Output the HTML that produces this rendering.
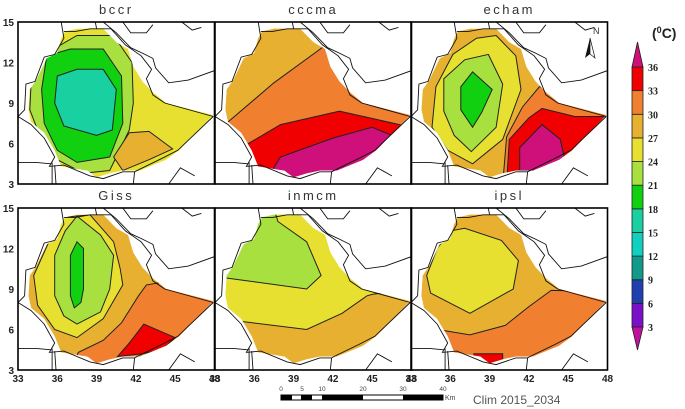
<!DOCTYPE html>
<html><head><meta charset="utf-8"><style>
body{margin:0;background:#fff;}
svg{display:block;font-family:"Liberation Sans",sans-serif;}
</style></head><body>
<svg id="fig" width="685" height="409" viewBox="0 0 685 409"></svg>
<script>
// ---- data ----
const models = ["bccr","cccma","echam","Giss","inmcm","ipsl"];
const levels = [3,6,9,12,15,18,21,24,27,30,33,36];
const levelColors = ["#7a10c8","#2040b0","#109a8a","#10d0c0","#18d0a0","#10d010","#a8e040","#e8e030","#e8b030","#f08030","#f00000","#d0107a"];
const outline = [[36.6,14.3],[37.5,14.5],[39.5,14.5],[40.5,13.5],[41.4,13],[41.8,11.7],[42.5,10.6],[43.3,9.8],[44.3,9],[47.9,8.1],[45.3,5.5],[44.3,4.8],[42.3,4.0],[41,4.0],[40,3.8],[39,3.5],[38.3,4.0],[36.3,4.3],[35.8,5.5],[35,6.8],[34,7.6],[33.8,8.5],[33.9,10],[34.4,10.7],[35.2,12.3],[36,12.7],[36.3,13.8]];
const baseClass = [7,9,8,8,8,9];
const regions = [
 [[6,[[35,12.6],[37.5,14],[40.3,14],[41.7,12],[41.8,9],[41.5,7],[40,4],[38,3.8],[36,4.8],[34.5,7],[33.9,8.5],[34,10.5]]],
  [5,[[35.2,12.5],[37,13],[39.5,13],[40.9,11],[41,7.5],[40,5],[37.5,4.6],[36,5.5],[35,7.5],[34.8,10]]],
  [4,[[36,11],[37.5,11.5],[39.5,11.5],[40.5,10],[40.2,7],[39,6.6],[36.5,7.3],[35.8,9]]],
  [8,[[40.3,5],[41.5,6.8],[43,6.9],[44.8,5.6],[43,4.8],[41,4]]]],
 [[8,[[33,7.6],[34,7.6],[37.5,10.5],[41.6,13.4],[42,15],[33,15]]],
  [10,[[33,6.5],[35.2,5.8],[38,7.4],[42.5,8.4],[48,7.2],[48,3],[33,3]]],
  [11,[[37.5,4.2],[38,5],[42,6.4],[45,7.2],[46.5,6.6],[46,3],[37,3]]]],
 [[7,[[39.5,14],[41,12.5],[41.4,10],[40,6.3],[37.7,4.5],[35.8,5.5],[34.6,7.2],[34.9,10.2],[36.2,12.6],[38,13.8]]],
  [6,[[38.9,12.6],[40,10.4],[39.5,7.2],[37.6,5.4],[36.3,6.6],[35.5,8.4],[35.5,10.8],[37.1,12.2]]],
  [5,[[37.7,11.3],[39.2,10],[38.4,8.3],[37.7,7.2],[36.8,8.5],[36.8,10.2]]],
  [9,[[40,3],[40.3,6.5],[41.5,8.7],[42.8,10.2],[44,10.2],[48,8.2],[48,3]]],
  [10,[[40.3,3],[40.5,6.3],[42,7.9],[43,8.6],[45.5,8.0],[48,8],[48,3]]],
  [11,[[41.3,4.0],[41.3,5.7],[43,7.4],[44.4,6.3],[44.7,5.0],[44.5,4.0]]]],
 [[7,[[36.5,14.3],[38.5,14.5],[40.3,12.5],[40.8,10.5],[41,9.3],[39.5,6.8],[37.5,5.4],[35.8,6],[34.5,7.8],[34.2,10],[35.5,12.8]]],
  [6,[[37.5,14.4],[39.3,13],[40.3,11.5],[40,9],[39.3,7.3],[37.5,6.4],[36.5,7],[35.8,8.5],[35.8,11.5],[36.6,13.3]]],
  [5,[[37.5,12.5],[38,12],[38,9],[37.8,8],[37.3,7.6],[37,8.5],[37,11.5]]],
  [9,[[37,3],[37.6,4.3],[39.5,5.2],[40.9,6.5],[42.2,8.5],[42.8,9.3],[44,9.5],[48,8.2],[48,3]]],
  [10,[[40.6,4],[41.5,5],[42.6,6.4],[45,5.4],[44,4.5],[42.5,4.2]]]],
 [[7,[[33,6.8],[35,6.6],[40,6],[42.7,7.2],[44.6,8.5],[45,8.6],[48,9],[48,15],[33,15]]],
  [6,[[33,9.9],[34,9.8],[40,9.0],[41.1,10],[40,12.5],[37.8,14],[37.5,15],[33,15]]]],
 [[8,[[33,6.3],[34.4,6.1],[37.5,5.6],[40.2,6.3],[42,7.7],[43.7,8.9],[48,8.8],[48,15],[33,15]]],
  [7,[[34.2,10],[34.5,8.7],[37.5,7.2],[40.8,9],[41.2,11.1],[39.9,12.6],[37.1,13.5],[36,13.3],[35,12]]],
  [10,[[37.8,3],[37.8,4.2],[40,4.2],[40,3]]]]
];
const borders = [
 [[36.3,15],[36.5,13.8],[35.8,12.6],[35,12.4],[34.3,10.6],[33.6,10.4],[33.5,8.5],[33,8]],
 [[33,8],[34,7.4],[35,6.4],[35.8,5],[35.4,4.3],[36.5,4.4],[38.5,3.6],[39.5,3.4],[41,3.9],[41.9,3.9]],
 [[41.9,3.9],[42.3,4.1],[44,4.9],[45.2,5.5],[47.9,8]],
 [[47.9,8],[44.2,9],[43.3,9.6],[42.8,10.8],[43.2,11.5],[42.4,12.5],[41.2,13.3],[40.1,14.5],[38.5,14.5],[37.4,14.3],[36.5,14.3]],
 [[39.5,15],[40.5,14.2],[41.6,13.1],[42.5,12.7],[43.3,12.3],[43.5,11.6],[44.5,10.5],[46,10.7],[48,11.4]],
 [[38.9,15],[39,14.5]],
 [[35.8,4.4],[35.9,3]],[[35.6,4.6],[35.6,3]],
 [[41.9,3.9],[41.8,3]],
 [[44.5,3],[45.4,4.2],[46.5,3.6]],
 [[33,4.6],[34.4,4.6],[35.5,4.5]],
 [[41,15],[41.6,14.2],[42.8,14.2],[43.3,14.8]],
 [[45.5,15],[46.3,14.4],[47,14.6]]
];
const xTicks = [33,36,39,42,45,48];
const yTicks = [3,6,9,12,15];

// ---- layout ----
const NS="http://www.w3.org/2000/svg";
const svg=document.getElementById('fig');
function mk(tag,attrs,parent){const e=document.createElementNS(NS,tag);for(const k in attrs)e.setAttribute(k,attrs[k]);(parent||svg).appendChild(e);return e;}
const colX=[18,215,411], rowY=[22,208], pw=196.5, ph=162;
function sx(c,lon){return colX[c]+(lon-33)*pw/15;}
function sy(r,lat){return rowY[r]+(15-lat)*ph/12;}

models.forEach((m,i)=>{
  const c=i%3, r=Math.floor(i/3);
  const g=mk('g',{});
  
  
  const pts=poly=>poly.map(p=>sx(c,p[0]).toFixed(1)+','+sy(r,p[1]).toFixed(1)).join(' ');
  const cp=mk('clipPath',{id:'clip'+i},g);
  mk('polygon',{points:pts(outline)},cp);
  const cf=mk('clipPath',{id:'frame'+i},g);
  mk('rect',{x:colX[c],y:rowY[r],width:pw,height:ph},cf);
  const base=mk('polygon',{points:pts(outline),fill:levelColors[baseClass[i]]},g);
  
  
  regions[i].forEach(rg=>{
    const p=mk('polygon',{points:pts(rg[1]),fill:levelColors[rg[0]],stroke:'#222','stroke-width':1,'clip-path':'url(#clip'+i+')'},g);
    
    
  });
  const bg=mk('g',{'clip-path':'url(#frame'+i+')'},g);
  borders.forEach(b=>{
    const l=mk('polyline',{points:pts(b),fill:'none',stroke:'#111','stroke-width':0.9},bg);
    
    
  });
  const fr=mk('rect',{x:colX[c],y:rowY[r],width:pw,height:ph,fill:'none',stroke:'#000','stroke-width':1.6},g);
  
  
  const t=mk('text',{x:colX[c]+pw/2,y:rowY[r]-8,'text-anchor':'middle','font-size':13,fill:'#333','letter-spacing':'2.5'},g);
  t.textContent=m;
  
  
  if(c===0){yTicks.forEach(v=>{
    const yl=mk('text',{x:colX[c]-4,y:sy(r,v)+4,'text-anchor':'end','font-size':10,'font-weight':'bold',fill:'#222'},g);
    yl.textContent=v;
    
    
  });}
  if(r===1){xTicks.forEach(v=>{
    const xl=mk('text',{x:sx(c,v),y:rowY[r]+ph+12,'text-anchor':'middle','font-size':10,'font-weight':'bold',fill:'#222'},g);
    xl.textContent=v;
    
    
  });}
});

// north arrow
const na=mk('g',{});


mk('polygon',{points:'590,38 585,58 590,54',fill:'#111'},na);
mk('polygon',{points:'590,38 595,58 590,54',fill:'#fff',stroke:'#111','stroke-width':0.7},na);
const nt=mk('text',{x:593,y:34,'font-size':9,fill:'#333'},na);nt.textContent='N';

// colorbar
const cb=mk('g',{});


const cbx=632,cbw=11,cbTop=67,cbBot=327,step=(cbBot-cbTop)/(levels.length-1);
levelColors.slice(0,levels.length-1).forEach((col,k)=>{
  const y=cbBot-(k+1)*step;
  const s=mk('rect',{x:cbx,y:y,width:cbw,height:step,fill:col,stroke:'#222','stroke-width':0.8},cb);
  
  
});
mk('polygon',{points:`${cbx},${cbTop} ${cbx+cbw},${cbTop} ${cbx+cbw/2},${cbTop-25}`,fill:'#d0107a',stroke:'#222','stroke-width':0.8},cb);
mk('polygon',{points:`${cbx},${cbBot} ${cbx+cbw},${cbBot} ${cbx+cbw/2},${cbBot+23}`,fill:'#c010a0',stroke:'#222','stroke-width':0.8},cb);
levels.forEach((v,k)=>{
  const l=mk('text',{x:648,y:cbBot-k*step+4,'font-size':10,'font-weight':'bold','font-family':'Liberation Serif, serif',fill:'#222'},cb);
  l.textContent=v;
  
  
});
const ut=mk('text',{x:652,y:38,'font-size':14,'font-weight':'bold',fill:'#222'},cb);
ut.innerHTML='(<tspan font-size="9" dy="-5">0</tspan><tspan dy="5">C)</tspan>';



// scale bar
const sb=mk('g',{});


mk('rect',{x:281,y:395,width:162,height:5,fill:'#fff',stroke:'#000','stroke-width':1},sb);
[[281,292],[301,312],[322,363],[403,443]].forEach(s=>mk('rect',{x:s[0],y:395,width:s[1]-s[0],height:5,fill:'#000'},sb));
[["0",281],["5",302],["10",322],["20",363],["30",403],["40",443]].forEach(l=>{const t=mk('text',{x:l[1],y:391,'font-size':6.5,'text-anchor':'middle',fill:'#444'},sb);t.textContent=l[0];});
const km=mk('text',{x:445,y:400,'font-size':7,fill:'#444'},sb);km.textContent='Km';
const clim=mk('text',{x:473,y:404,'font-size':12,fill:'#555'});
clim.textContent='Clim 2015_2034';


</script>
</body></html>
